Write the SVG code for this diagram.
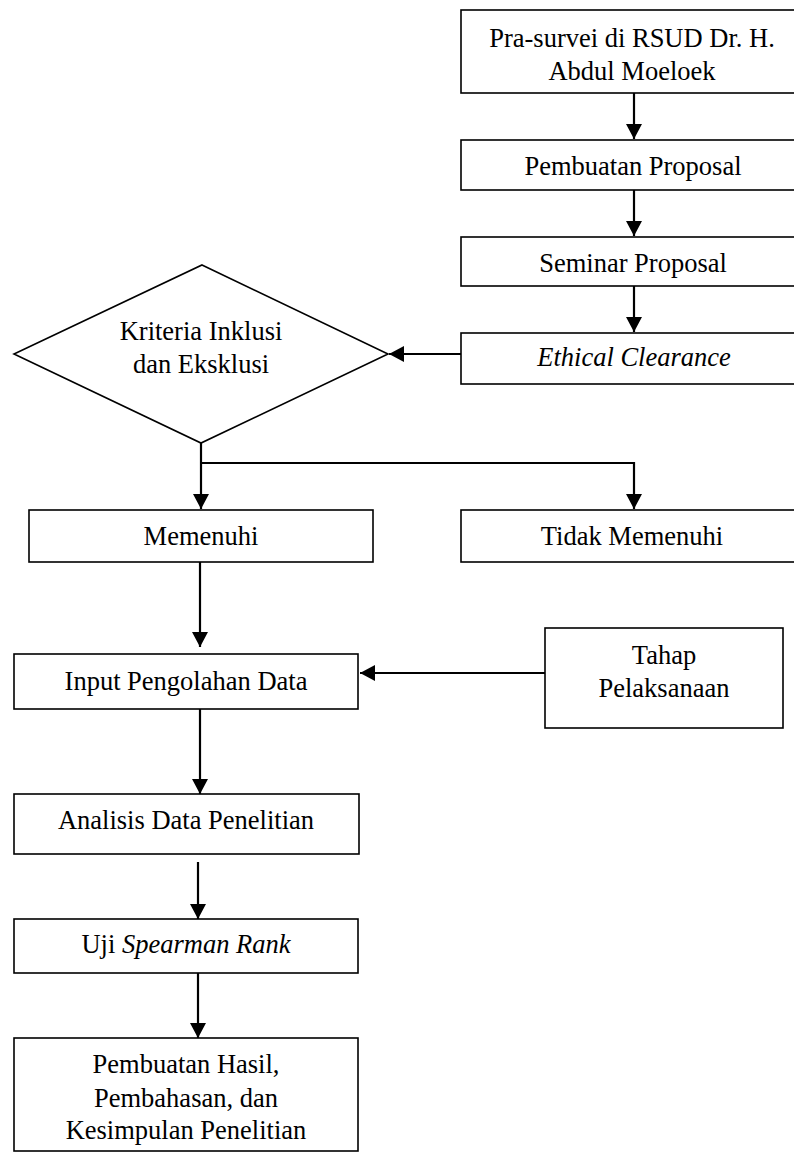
<svg xmlns="http://www.w3.org/2000/svg" width="794" height="1158" viewBox="0 0 794 1158">
<style>
.box{fill:#fff;stroke:#000;stroke-width:1.6}
.t{font-family:"Liberation Serif","Times New Roman",serif;font-size:26.5px;fill:#000;text-anchor:middle}
.i{font-style:italic}
.c{fill:none;stroke:#000;stroke-width:2.2;marker-end:url(#ah)}
.l{fill:none;stroke:#000;stroke-width:2.2}
</style>
<defs>
<marker id="ah" viewBox="0 0 15 16" refX="15" refY="8" markerWidth="15" markerHeight="16" orient="auto" markerUnits="userSpaceOnUse">
<path d="M0,0 L15,8 L0,16 z" fill="#000"/>
</marker>
</defs>
<rect width="794" height="1158" fill="#fff"/>
<g id="connectors">
<path class="c" d="M634,93 V139"/>
<path class="c" d="M634,190 V236"/>
<path class="c" d="M634,286 V332"/>
<path class="c" d="M461,354 H389"/>
<path class="c" d="M201,443 V509"/>
<path class="l" d="M201,463 H634"/>
<path class="c" d="M634,462 V509"/>
<path class="c" d="M200,562 V647"/>
<path class="c" d="M545,673 H360"/>
<path class="c" d="M200,709 V794"/>
<path class="c" d="M198,862 V919"/>
<path class="c" d="M198,973 V1038"/>
</g>
<g id="n1"><rect class="box" x="461" y="10" width="340" height="83"/>
<text class="t" x="632" y="47">Pra-survei di RSUD Dr. H.</text>
<text class="t" x="632" y="80">Abdul Moeloek</text></g>
<g id="n2"><rect class="box" x="461" y="140" width="340" height="50"/>
<text class="t" x="633" y="175">Pembuatan Proposal</text></g>
<g id="n3"><rect class="box" x="461" y="237" width="340" height="49"/>
<text class="t" x="633" y="272">Seminar Proposal</text></g>
<g id="n4"><rect class="box" x="461" y="333" width="340" height="51"/>
<text class="t i" x="634" y="366">Ethical Clearance</text></g>
<g id="n5"><polygon class="box" points="202,265 388,354 201,443 14,354"/>
<text class="t" x="201" y="340">Kriteria Inklusi</text>
<text class="t" x="201" y="373">dan Eksklusi</text></g>
<g id="n6"><rect class="box" x="29" y="510" width="344" height="52"/>
<text class="t" x="201" y="545">Memenuhi</text></g>
<g id="n7"><rect class="box" x="461" y="510" width="340" height="52"/>
<text class="t" x="632" y="545">Tidak Memenuhi</text></g>
<g id="n8"><rect class="box" x="14" y="654" width="344" height="55"/>
<text class="t" x="186" y="690">Input Pengolahan Data</text></g>
<g id="n9"><rect class="box" x="545" y="628" width="238" height="100"/>
<text class="t" x="664" y="664">Tahap</text>
<text class="t" x="664" y="697">Pelaksanaan</text></g>
<g id="n10"><rect class="box" x="14" y="794" width="345" height="60"/>
<text class="t" x="186" y="829">Analisis Data Penelitian</text></g>
<g id="n11"><rect class="box" x="14" y="919" width="344" height="54"/>
<text class="t" x="186" y="953">Uji <tspan class="i">Spearman Rank</tspan></text></g>
<g id="n12"><rect class="box" x="14" y="1038" width="344" height="113"/>
<text class="t" x="186" y="1073">Pembuatan Hasil,</text>
<text class="t" x="186" y="1107">Pembahasan, dan</text>
<text class="t" x="186" y="1139">Kesimpulan Penelitian</text></g>
</svg>
